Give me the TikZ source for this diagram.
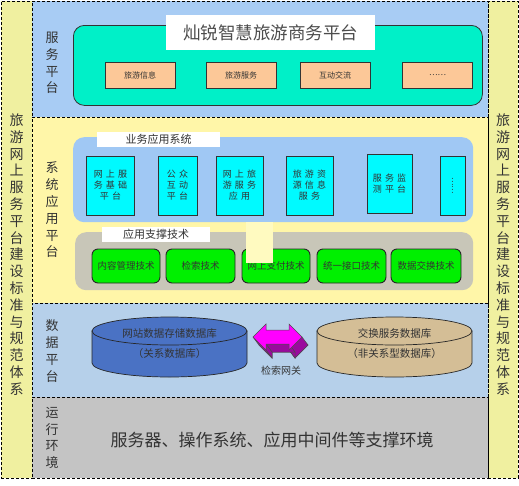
\documentclass[tikz,border=0pt]{standalone}
\usepackage{fontspec}
\setmainfont{Noto Sans CJK SC}
\definecolor{sidebar}{HTML}{F0F0A0}
\definecolor{svcband}{HTML}{A8CCF4}
\definecolor{teal}{HTML}{00F0C8}
\definecolor{orangebox}{HTML}{FCC898}
\definecolor{sysband}{HTML}{FFF6A8}
\definecolor{bizarea}{HTML}{A0C8F4}
\definecolor{cyanbox}{HTML}{00FAFF}
\definecolor{techarea}{HTML}{C8C6B8}
\definecolor{greenbox}{HTML}{00F000}
\definecolor{databand}{HTML}{B6D0EA}
\definecolor{runband}{HTML}{C4C4C4}
\definecolor{cylblue}{HTML}{4A72C4}
\definecolor{cyltan}{HTML}{D4BE96}
\definecolor{arrowfront}{HTML}{FF00FF}
\definecolor{arrowside}{HTML}{9A0A9E}
\definecolor{overlay}{HTML}{FFFAC0}
\definecolor{txt}{HTML}{333333}
\newcommand{\gapc}{\hspace{3.2pt}}
\tikzset{
  band/.style={draw=black, densely dashed, line width=0.8pt, anchor=north west, inner sep=0pt},
  vlab/.style={align=center, text=txt, inner sep=0pt, font=\fontsize{13}{16.8}\selectfont},
  sidelab/.style={align=center, text=txt, inner sep=0pt, font=\fontsize{14}{16.8}\selectfont},
  obox/.style={draw=black!80, fill=orangebox, line width=0.7pt, minimum width=70pt, minimum height=26pt, inner sep=0pt, text=txt, font=\fontsize{8}{10}\selectfont},
  cbox/.style={draw=black!80, fill=cyanbox, line width=0.8pt, minimum width=48pt, minimum height=59pt, inner sep=0pt, align=center, text=txt, font=\fontsize{9}{11}\selectfont},
  gbox/.style={draw=black!85, fill=greenbox, line width=0.9pt, rounded corners=6pt, minimum width=68pt, minimum height=34pt, inner sep=0pt, text=txt, font=\fontsize{9.5}{11}\selectfont},
  areatitle/.style={fill=white, inner sep=0pt, text=txt, font=\fontsize{11}{13}\selectfont},
  cyltext/.style={align=center, text=txt, inner sep=0pt, font=\fontsize{10.5}{20}\selectfont},
}
\begin{document}
\begin{tikzpicture}[x=1pt,y=-1pt]
\useasboundingbox (0,0) rectangle (519,485);
% side bars
\node[band, fill=sidebar, minimum width=31pt, minimum height=477pt] (leftbar) at (1,1) {};
\node[band, fill=sidebar, minimum width=30pt, minimum height=477pt] (rightbar) at (488,1) {};
\node[sidelab] (lefttext) at (16.5,254.5) {旅\\游\\网\\上\\服\\务\\平\\台\\建\\设\\标\\准\\与\\规\\范\\体\\系};
\node[sidelab] (righttext) at (503,254.5) {旅\\游\\网\\上\\服\\务\\平\\台\\建\\设\\标\\准\\与\\规\\范\\体\\系};
% bands
\node[band, fill=svcband, minimum width=456pt, minimum height=116pt] (svc) at (32,1) {};
\node[band, fill=sysband, minimum width=456pt, minimum height=186pt] (sys) at (32,117) {};
\node[band, fill=databand, minimum width=456pt, minimum height=94pt] (data) at (32,303) {};
\node[band, fill=runband, minimum width=456pt, minimum height=81pt] (run) at (32,397) {};
% band labels
\node[vlab] (svclab) at (52,63) {服\\务\\平\\台};
\node[vlab] (syslab) at (52,210) {系\\统\\应\\用\\平\\台};
\node[vlab] (datalab) at (52,351) {数\\据\\平\\台};
\node[vlab] (runlab) at (52,438) {运\\行\\环\\境};
% service platform
\node[draw=black!80, fill=teal, line width=0.8pt, rounded corners=11pt, minimum width=409pt, minimum height=80pt, anchor=north west, inner sep=0pt] (tealbox) at (73,25) {};
\node[fill=white, minimum width=209pt, minimum height=35pt, anchor=north west, inner sep=0pt] (titlebox) at (166,15) {};
\node[text=black!70, font=\fontsize{17.5}{20}\selectfont] (title) at (titlebox.center) {灿锐智慧旅游商务平台};
\node[obox] (o1) at (140,75) {旅游信息};
\node[obox] (o2) at (241,75) {旅游服务};
\node[obox] (o3) at (335,75) {互动交流};
\node[obox] (o4) at (437.5,75) {……};
% business application system
\node[fill=bizarea, rounded corners=11pt, minimum width=400pt, minimum height=85pt, anchor=north west, inner sep=0pt] (bizarea) at (73,137) {};
\node[areatitle, minimum width=123pt, minimum height=15pt, anchor=north west] (biztitle) at (97,132) {业务应用系统};
\node[cbox] (c1) at (110.5,185.5) {网\gapc 上\gapc 服\\务\gapc 基\gapc 础\\平\gapc 台};
\node[cbox, minimum width=39pt] (c2) at (177.5,185.5) {公\gapc 众\\互\gapc 动\\平\gapc 台};
\node[cbox, minimum width=47pt] (c3) at (239.5,185.5) {网\gapc 上\gapc 旅\\游\gapc 服\gapc 务\\应\gapc 用};
\node[cbox, minimum width=47pt] (c4) at (309.5,185.5) {旅\gapc 游\gapc 资\\源\gapc 信\gapc 息\\服\gapc 务};
\node[cbox, minimum width=45pt] (c5) at (389.5,183.5) {服\gapc 务\gapc 监\\测\gapc 平\gapc 台};
\node[cbox, minimum width=25pt] (c6) at (452.5,185.5) {};
\node[text=txt, rotate=-90, font=\fontsize{8}{10}\selectfont] (c6t) at (c6.center) {……};
% application support technology
\node[fill=techarea, rounded corners=11pt, minimum width=398pt, minimum height=58pt, anchor=north west, inner sep=0pt] (techarea) at (75,232) {};
\node[areatitle, minimum width=108pt, minimum height=15pt, anchor=north west] (techtitle) at (102,227) {应用支撑技术};
\node[gbox] (g1) at (126,266) {内容管理技术};
\node[gbox, minimum width=69pt] (g2) at (200.5,266) {检索技术};
\node[gbox] (g3) at (276,266) {网上支付技术};
\node[gbox, minimum width=69pt] (g4) at (351.5,266) {统一接口技术};
\node[gbox, minimum width=70pt] (g5) at (426,266) {数据交换技术};
\node[fill=overlay, minimum width=27pt, minimum height=41pt, anchor=north west, inner sep=0pt] (overlaybox) at (246,222) {};
% data platform: cylinders
\filldraw[fill=cylblue, draw=black!85, line width=0.7pt] (92,331) -- (92,363) arc[start angle=180, end angle=0, x radius=77.5, y radius=14] -- (247,331) -- cycle;
\filldraw[fill=cylblue, draw=black!85, line width=0.7pt] (169.5,331) ellipse[x radius=77.5, y radius=14];
\node[cyltext] (db1) at (169.5,344) {网站数据存储数据库\\（关系数据库）};
\filldraw[fill=cyltan, draw=black!85, line width=0.7pt] (317,331) -- (317,363) arc[start angle=180, end angle=0, x radius=77.5, y radius=14] -- (472,331) -- cycle;
\filldraw[fill=cyltan, draw=black!85, line width=0.7pt] (394.5,331) ellipse[x radius=77.5, y radius=14];
\node[cyltext] (db2) at (394.5,344) {交换服务数据库\\（非关系型数据库）};
% gateway double arrow (3D)
\begin{scope}[line width=0.5pt, draw=black!70]
\filldraw[fill=arrowside, shift={(6,8)}] (253,337) -- (266,324) -- (266,330) -- (289,330) -- (289,324) -- (302,337) -- (289,350) -- (289,344) -- (266,344) -- (266,350) -- cycle;
\filldraw[fill=arrowside] (302,337) -- (308,345) -- (295,358) -- (289,350) -- cycle;
\filldraw[fill=arrowside] (289,350) -- (295,358) -- (295,352) -- (289,344) -- cycle;
\filldraw[fill=arrowside] (289,344) -- (295,352) -- (272,352) -- (266,344) -- cycle;
\filldraw[fill=arrowside] (266,350) -- (272,358) -- (272,352) -- (266,344) -- cycle;
\filldraw[fill=arrowside] (253,337) -- (259,345) -- (272,358) -- (266,350) -- cycle;
\filldraw[fill=arrowfront] (253,337) -- (266,324) -- (266,330) -- (289,330) -- (289,324) -- (302,337) -- (289,350) -- (289,344) -- (266,344) -- (266,350) -- cycle;
\end{scope}
\node[text=txt, font=\fontsize{10}{12}\selectfont] (gwlabel) at (281,371) {检索网关};
% runtime
\node[text=txt, font=\fontsize{17}{20}\selectfont] (runtext) at (272,440) {服务器、操作系统、应用中间件等支撑环境};
\end{tikzpicture}
\end{document}
